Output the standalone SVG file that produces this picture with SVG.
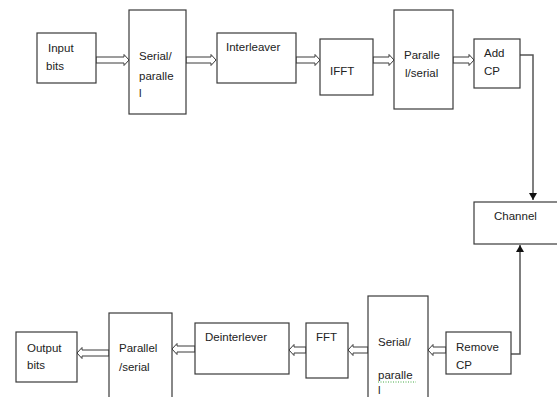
<svg xmlns="http://www.w3.org/2000/svg" width="557" height="397" viewBox="0 0 557 397">
<style>
.box{fill:#fff;stroke:#3a3a3a;stroke-width:1.2}
.t{font-family:"Liberation Sans",Arial,sans-serif;font-size:11.5px;fill:#222}
.ha{fill:#fff;stroke:#3a3a3a;stroke-width:1}
.ln{fill:none;stroke:#555;stroke-width:1.5}
</style>
<defs>
<marker id="ah" markerWidth="8" markerHeight="8" refX="7" refY="4" orient="auto" markerUnits="userSpaceOnUse">
<path d="M0,0 L7,4 L0,8 Z" fill="#111"/>
</marker>
</defs>
<rect width="557" height="397" fill="#fff"/>
<g id="connectors">
<polygon class="ha" points="96,57 124,57 124,54.5 129,60 124,65.5 124,63 96,63"/>
<polygon class="ha" points="186,57 211,57 211,54.5 216,60 211,65.5 211,63 186,63"/>
<polygon class="ha" points="296,57 315,57 315,54.5 320,60 315,65.5 315,63 296,63"/>
<polygon class="ha" points="373,57 389,57 389,54.5 394,60 389,65.5 389,63 373,63"/>
<polygon class="ha" points="453,57 469,57 469,54.5 474,60 469,65.5 469,63 453,63"/>
<polyline class="ln" points="520,55 533,55 533,200" marker-end="url(#ah)"/>
<polyline class="ln" points="511,354 520,354 520,245" marker-end="url(#ah)"/>
<polygon class="ha" points="446,347 433,347 433,344.5 428,350 433,355.5 433,353 446,353"/>
<polygon class="ha" points="368,347 353,347 353,344.5 348,350 353,355.5 353,353 368,353"/>
<polygon class="ha" points="306,347 294,347 294,344.5 289,350 294,355.5 294,353 306,353"/>
<polygon class="ha" points="195,346 177,346 177,343.5 172,349 177,354.5 177,352 195,352"/>
<polygon class="ha" points="109,350 82,350 82,347.5 77,353 82,358.5 82,356 109,356"/>
</g>
<g id="input-bits"><rect class="box" x="37" y="33" width="59" height="50"/><text class="t" x="48" y="52">Input</text><text class="t" x="46" y="70">bits</text></g>
<g id="serial-parallel"><rect class="box" x="129" y="10" width="57" height="104"/><text class="t" x="139" y="60">Serial/</text><text class="t" x="139" y="80">paralle</text><text class="t" x="139" y="97">l</text></g>
<g id="interleaver"><rect class="box" x="217" y="33" width="79" height="50"/><text class="t" x="226" y="51">Interleaver</text></g>
<g id="ifft"><rect class="box" x="320" y="39" width="53" height="56"/><text class="t" x="330" y="75">IFFT</text></g>
<g id="parallel-serial"><rect class="box" x="394" y="10" width="59" height="99"/><text class="t" x="404" y="59">Paralle</text><text class="t" x="405" y="77">l/serial</text></g>
<g id="add-cp"><rect class="box" x="474" y="39" width="46" height="49"/><text class="t" x="484" y="57">Add</text><text class="t" x="484" y="75">CP</text></g>
<g id="channel"><rect class="box" x="474" y="202" width="84" height="42"/><text class="t" x="494" y="220">Channel</text></g>
<g id="remove-cp"><rect class="box" x="446" y="332" width="65" height="42"/><text class="t" x="456" y="351">Remove</text><text class="t" x="456" y="369">CP</text></g>
<g id="serial-parallel-rx"><rect class="box" x="368" y="296" width="60" height="110"/><text class="t" x="378" y="346">Serial/</text><text class="t" x="378" y="379">paralle</text><line x1="378" y1="382" x2="416" y2="382" stroke="#4a4" stroke-width="1" stroke-dasharray="1,1.5"/><text class="t" x="378" y="394">l</text></g>
<g id="fft"><rect class="box" x="306" y="323" width="42" height="55"/><text class="t" x="316" y="341">FFT</text></g>
<g id="deinterleaver"><rect class="box" x="195" y="323" width="94" height="51"/><text class="t" x="205" y="341">Deinterlever</text></g>
<g id="parallel-serial-rx"><rect class="box" x="109" y="313" width="63" height="100"/><text class="t" x="119" y="352">Parallel</text><text class="t" x="119" y="371">/serial</text></g>
<g id="output-bits"><rect class="box" x="16" y="332" width="61" height="50"/><text class="t" x="27" y="352">Output</text><text class="t" x="27" y="369">bits</text></g>
</svg>
